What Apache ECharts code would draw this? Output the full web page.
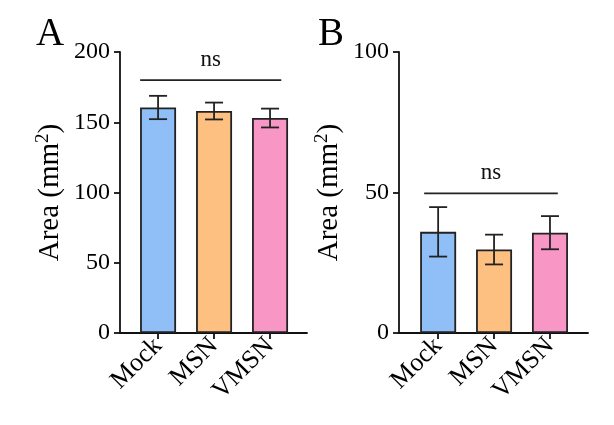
<!DOCTYPE html>
<html>
<head>
<meta charset="utf-8">
<script src="https://cdn.jsdelivr.net/npm/echarts@6/dist/echarts.min.js"></script>
<style>
html,body{margin:0;padding:0;background:#fff;}
#main{width:614px;height:425px;}
</style>
</head>
<body>
<div id="main"></div>
<script>
// 分组
var groups=['Mock','MSN','VMSN'];
var barColors=['#90bff8','#fec080','#f896c6'];
// A 面板
var meanA=[160.5,158,153];
var sdA=[8.3,6,6.7];
var ticksA=[0,50,100,150,200];
// B 面板
var meanB=[36,29.7,35.7];
var sdB=[8.8,5.3,5.9];
var ticksB=[0,50,100];
// 显著性标记 [x1,x2,y]
var sigA=[0.68,3.2,180];
var sigB=[0.75,3.14,49.7];

var font='"Liberation Serif","Times New Roman",serif';
var lineW=1.8;
var myChart=echarts.init(document.getElementById('main'));

function barData(mean){
	var arr=[];
	for(var i=0;i<mean.length;i++){
		arr.push({value:[i+1,mean[i]],itemStyle:{color:barColors[i]}});
	}
	return arr;
}
function errData(mean,sd){
	var arr=[];
	for(var i=0;i<mean.length;i++){
		arr.push([i+1,mean[i]-sd[i],mean[i]+sd[i]]);
	}
	return arr;
}
//误差线
function renderErr(params,api){
	var x=api.value(0);
	var lo=api.coord([x,api.value(1)]);
	var hi=api.coord([x,api.value(2)]);
	var w=9;
	var st={stroke:'#222',lineWidth:lineW};
	return {type:'group',children:[
		{type:'line',shape:{x1:lo[0],y1:lo[1],x2:hi[0],y2:hi[1]},style:st},
		{type:'line',shape:{x1:lo[0]-w,y1:lo[1],x2:lo[0]+w,y2:lo[1]},style:st},
		{type:'line',shape:{x1:hi[0]-w,y1:hi[1],x2:hi[0]+w,y2:hi[1]},style:st}
	]};
}
//ns 标记
function renderSig(params,api){
	var p1=api.coord([api.value(0),api.value(2)]);
	var p2=api.coord([api.value(1),api.value(2)]);
	return {type:'group',children:[
		{type:'line',shape:{x1:p1[0],y1:p1[1],x2:p2[0],y2:p2[1]},style:{stroke:'#222',lineWidth:lineW}},
		{type:'text',x:(p1[0]+p2[0])/2,y:p1[1]-20,style:{text:'ns',fontFamily:font,fontSize:23,fill:'#111',align:'center',verticalAlign:'middle'}}
	]};
}
function xAxisOf(idx,min,max){
	return {
		gridIndex:idx,type:'value',min:min,max:max,
		splitLine:{show:false},
		axisLine:{show:true,lineStyle:{color:'#111',width:lineW}},
		axisTick:{show:true,length:6,customValues:[1,2,3],lineStyle:{color:'#111',width:lineW}},
		axisLabel:{customValues:[1,2,3],rotate:45,margin:9,fontFamily:font,fontSize:26,color:'#000',
			formatter:function(v){return groups[Math.round(v)-1]||'';}}
	};
}
function yAxisOf(idx,max){
	return {
		gridIndex:idx,type:'value',min:0,max:max,interval:50,
		splitLine:{show:false},
		axisLine:{show:true,lineStyle:{color:'#111',width:lineW}},
		axisTick:{show:true,length:6,lineStyle:{color:'#111',width:lineW}},
		axisLabel:{margin:10,fontFamily:font,fontSize:24,color:'#000'},
		name:'{a|Area (mm}{s|2}{a|)}',nameLocation:'middle',nameGap:54,nameRotate:90,
		nameTextStyle:{rich:{
			a:{fontFamily:font,fontSize:29,color:'#000'},
			s:{fontFamily:font,fontSize:19,color:'#000',verticalAlign:'top',padding:[0,0,13,0]}
		}}
	};
}

var option={
	animation:false,
	backgroundColor:'#fff',
	title:[
		{text:'A',left:31,top:10,textStyle:{fontFamily:font,fontSize:39,fontWeight:'normal',color:'#000'}},
		{text:'B',left:313,top:10,textStyle:{fontFamily:font,fontSize:39,fontWeight:'normal',color:'#000'}}
	],
	grid:[
		{left:120,top:52,width:187,height:281},
		{left:399,top:52,width:189,height:281}
	],
	xAxis:[xAxisOf(0,0.32,3.66),xAxisOf(1,0.30,3.68)],
	yAxis:[yAxisOf(0,200),yAxisOf(1,100)],
	series:[
		{type:'bar',xAxisIndex:0,yAxisIndex:0,barWidth:36,data:barData(meanA),
			itemStyle:{borderColor:'#222',borderWidth:lineW}},
		{type:'custom',xAxisIndex:0,yAxisIndex:0,renderItem:renderErr,data:errData(meanA,sdA),z:5},
		{type:'custom',xAxisIndex:0,yAxisIndex:0,renderItem:renderSig,data:[sigA],z:5},
		{type:'bar',xAxisIndex:1,yAxisIndex:1,barWidth:36,data:barData(meanB),
			itemStyle:{borderColor:'#222',borderWidth:lineW}},
		{type:'custom',xAxisIndex:1,yAxisIndex:1,renderItem:renderErr,data:errData(meanB,sdB),z:5},
		{type:'custom',xAxisIndex:1,yAxisIndex:1,renderItem:renderSig,data:[sigB],z:5}
	]
};
myChart.setOption(option);
</script>
</body>
</html>
